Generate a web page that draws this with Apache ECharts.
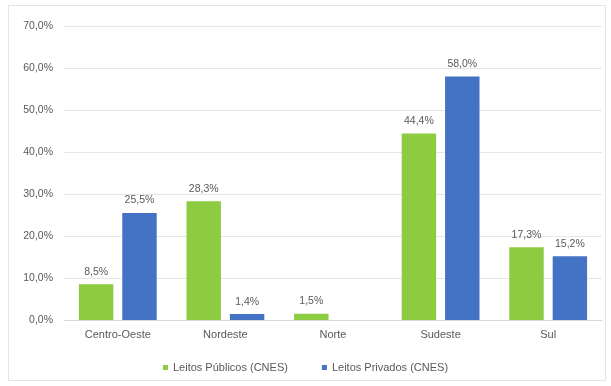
<!DOCTYPE html>
<html><head><meta charset="utf-8">
<script src="https://cdn.jsdelivr.net/npm/echarts@6/dist/echarts.min.js"></script>
<style>html,body{margin:0;padding:0;background:#fff}#c{width:611px;height:386px}</style>
</head><body><div id="c"></div>
<script>
const categories = ['Centro-Oeste','Nordeste','Norte','Sudeste','Sul'];
const publicos = [8.5, 28.3, 1.5, 44.4, 17.3];
const privados = [25.5, 1.4, 0, 58.0, 15.2];
const seriesNames = ['Leitos Públicos (CNES)','Leitos Privados (CNES)'];
const fmt = v => v.toFixed(1).replace('.', ',') + '%';
const chart = echarts.init(document.getElementById('c'));
const FONT = 'Liberation Sans';
const lbl = {show:true, position:'top', color:'#595959', fontSize:10.5, fontFamily:FONT, distance:7,
  formatter: p => p.value === 0 ? '' : fmt(p.value)};
chart.setOption({
  animation:false,
  graphic:[{type:'rect', shape:{x:8.5,y:5.5,width:597,height:375}, style:{fill:'none', stroke:'#e4e4e4', lineWidth:1}}],
  grid:{left:64, right:9, top:26, bottom:66},
  legend:{bottom:8, left:'center', itemWidth:5, itemHeight:5, itemGap:34, icon:'rect',
    textStyle:{color:'#595959', fontSize:11, fontFamily:FONT}},
  xAxis:{type:'category', data:categories, axisTick:{show:false},
    axisLine:{lineStyle:{color:'#d9d9d9'}},
    axisLabel:{color:'#595959', fontSize:11, fontFamily:FONT, margin:9}},
  yAxis:{type:'value', min:0, max:70, interval:10,
    axisLabel:{color:'#595959', fontSize:10.5, fontFamily:FONT, margin:11, formatter: v => fmt(v)},
    splitLine:{lineStyle:{color:'#e6e6e6'}}},
  series:[
    {name:seriesNames[0], type:'bar', data:publicos, barWidth:'32%', barGap:'26%', itemStyle:{color:'#8DCB41'}, label:lbl},
    {name:seriesNames[1], type:'bar', data:privados, barWidth:'32%', barGap:'26%', itemStyle:{color:'#4472C4'}, label:lbl}
  ]
});
</script></body></html>
